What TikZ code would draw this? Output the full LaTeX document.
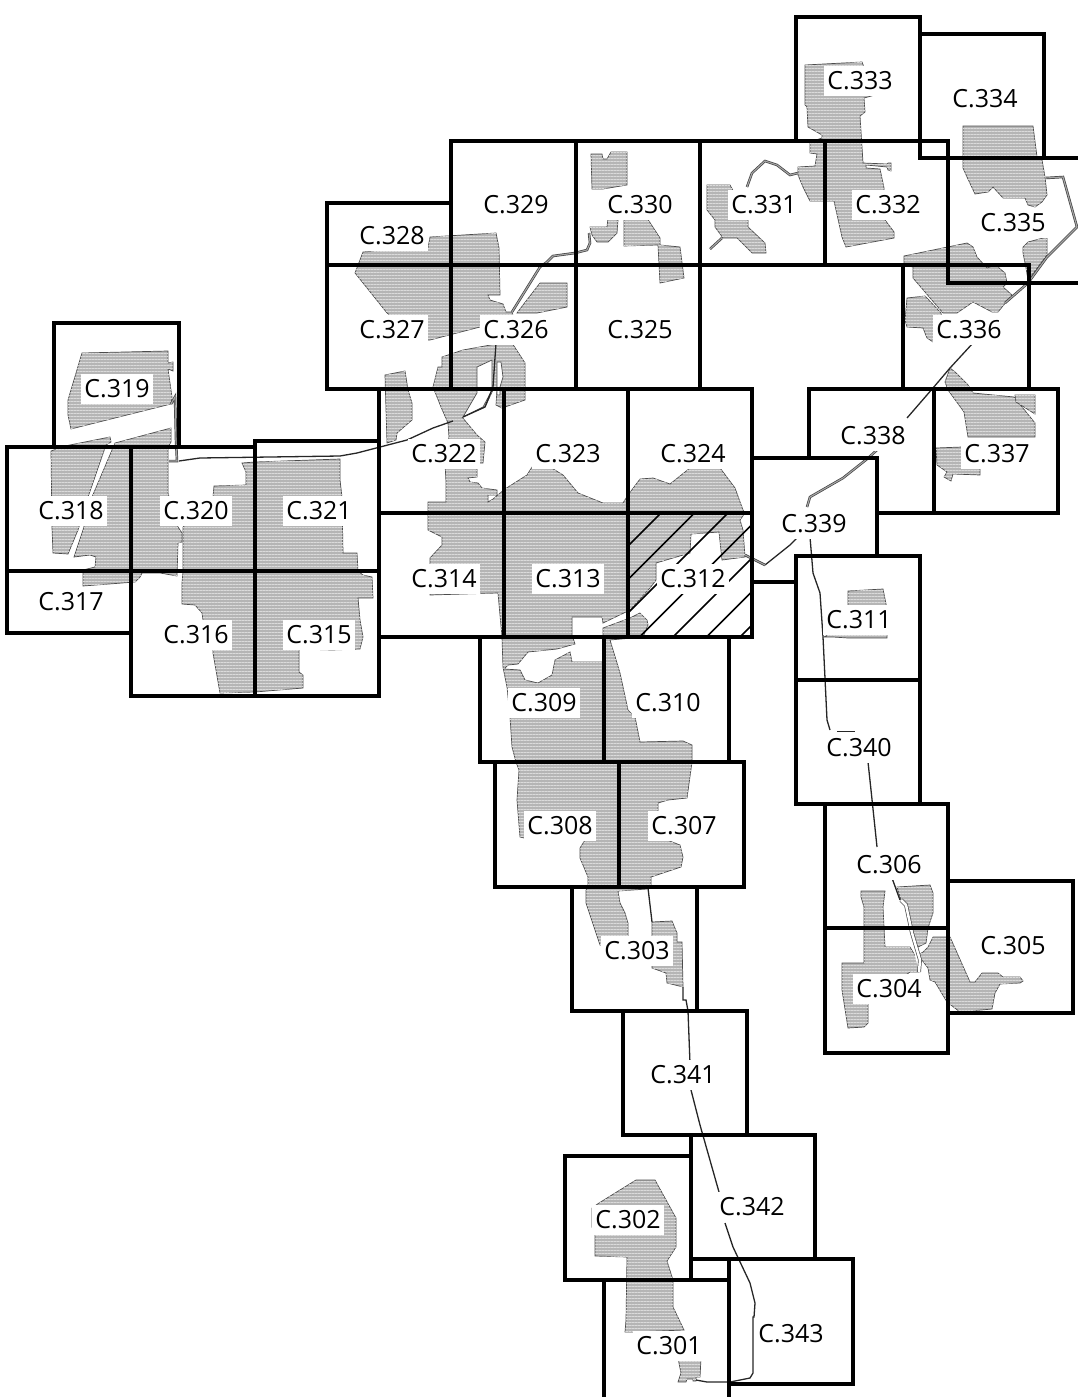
\documentclass[tikz,border=0pt]{standalone}
\usepackage{fontspec}
\setmainfont{Open Sans}
\usetikzlibrary{patterns.meta}
\definecolor{parcelgray}{gray}{0.71}
\definecolor{parcelline}{gray}{0.86}
\begin{document}
\begin{tikzpicture}[
        x=1pt,y=-1pt,
        parcel/.style={draw=black!70,line width=.7pt,fill=parcelgray,
            postaction={pattern={Lines[angle=0,distance=3pt,line width=.7pt]},pattern color=parcelline}},
        gap/.style={draw=black!70,line width=.7pt,fill=white},
        road/.style={draw=black!85,line width=1.3pt},
        canal/.style={draw=black!75,line width=.7pt,double=black!35,double distance=1.1pt},
        sheet/.style={draw=black,line width=3.1pt,line join=miter},
        sheetname/.style={fill=white,inner sep=0pt,yshift=-.7pt,minimum width=72pt,minimum height=30pt,font=\fontsize{25}{26}\selectfont},
    ]
    \useasboundingbox (0,0) rectangle (1078,1397);
    % north-west block
    \path[parcel] (82,353) -- (168,351) -- (168,363) -- (173,362) -- (173,371) -- (168,369) -- (172,397) -- (171,404) -- (71,429) -- (68,415) -- (68,400) -- cycle;
    \path[parcel] (51,451) -- (65,446) -- (110,437) -- (111,442) -- (106,445) -- (88,497) -- (78,530) -- (68,554) -- (53,553) -- (52,527) -- cycle;
    \path[parcel] (115,443) -- (171,428) -- (171,442) -- (168,447) -- (168,493) -- (178,527) -- (182,533) -- (182,542) -- (178,543) -- (177,576) -- (160,573) -- (142,573) -- (140,577) -- (135,582) -- (83,586) -- (83,570) -- (95,567) -- (96,557) -- (90,555) -- (74,557) -- (83,530) -- (92,497) -- cycle;
    \path[parcel] (242,463) -- (255,462) -- (340,459) -- (340,480) -- (342,497) -- (343,553) -- (357,553) -- (358,571) -- (363,575) -- (372,577) -- (373,598) -- (358,598) -- (360,620) -- (363,637) -- (360,649) -- (332,650) -- (299,649) -- (299,672) -- (303,675) -- (303,688) -- (255,692) -- (220,693) -- (213,653) -- (213,648) -- (203,620) -- (202,613) -- (195,605) -- (182,604) -- (182,583) -- (183,572) -- (183,527) -- (213,497) -- (214,486) -- (246,485) -- (246,472) -- cycle;
    \path[parcel] (385,375) -- (405,371) -- (408,390) -- (412,403) -- (412,420) -- (397,433) -- (396,440) -- (387,443) -- cycle;
    % central block
    \path[parcel] (442,357) -- (463,350) -- (496,344) -- (512,343) -- (525,363) -- (525,400) -- (502,408) -- (496,405) -- (497,390) -- (493,390) -- (485,407) -- (462,417) -- (477,435) -- (485,442) -- (483,463) -- (477,463) -- (477,477) -- (468,478) -- (470,482) -- (478,483) -- (482,488) -- (497,490) -- (497,495) -- (488,495) -- (488,502) -- (493,499) -- (505,489) -- (527,475) -- (532,467) -- (550,467) -- (563,475) -- (578,493) -- (603,503) -- (623,503) -- (628,495) -- (640,479) -- (653,478) -- (670,484) -- (690,468) -- (720,468) -- (735,488) -- (743,510) -- (745,513) -- (740,520) -- (743,530) -- (745,557) -- (722,560) -- (719,532) -- (691,534) -- (690,553) -- (656,563) -- (656,580) -- (650,588) -- (630,610) -- (603,623) -- (602,617) -- (572,617) -- (572,637) -- (573,638) -- (575,644) -- (557,649) -- (528,652) -- (518,664) -- (508,665) -- (504,669) -- (520,670) -- (525,680) -- (538,683) -- (552,675) -- (555,660) -- (570,652) -- (572,662) -- (603,662) -- (603,628) -- (630,618) -- (640,613) -- (647,620) -- (648,625) -- (643,637) -- (610,640) -- (620,673) -- (628,710) -- (635,717) -- (640,742) -- (683,741) -- (692,745) -- (692,762) -- (687,798) -- (668,800) -- (658,803) -- (658,830) -- (667,840) -- (680,845) -- (683,857) -- (681,867) -- (663,873) -- (651,877) -- (651,887) -- (647,889) -- (618,891) -- (620,903) -- (625,913) -- (628,923) -- (628,945) -- (600,945) -- (586,903) -- (586,890) -- (588,887) -- (588,877) -- (580,858) -- (580,848) -- (585,840) -- (585,830) -- (524,838) -- (520,837) -- (517,800) -- (519,770) -- (516,762) -- (512,747) -- (510,717) -- (507,687) -- (503,667) -- (502,637) -- (498,593) -- (430,595) -- (430,558) -- (442,545) -- (442,537) -- (428,530) -- (428,502) -- (446,502) -- (446,482) -- (445,463) -- (449,437) -- (448,423) -- (441,407) -- (433,387) -- (438,367) -- (442,367) -- cycle;
    \path[gap] (477,367) -- (492,360) -- (492,390) -- (483,407) -- (463,417) -- (477,393) -- cycle;
    \path[gap] (497,362) -- (501,362) -- (503,377) -- (500,387) -- (500,395) -- (497,395) -- cycle;
    \path[parcel] (652,922) -- (672,921) -- (677,933) -- (677,942) -- (682,942) -- (683,987) -- (667,983) -- (666,973) -- (652,968) -- cycle;
    % north block
    \path[parcel] (430,237) -- (496,233) -- (499,248) -- (500,295) -- (488,295) -- (490,300) -- (503,304) -- (506,312) -- (512,312) -- (516,327) -- (480,327) -- (430,340) -- (425,340) -- (387,313) -- (355,273) -- (363,252) -- (417,248) -- (428,248) -- cycle;
    \path[parcel] (540,283) -- (567,283) -- (567,307) -- (537,313) -- (517,313) -- (523,305) -- cycle;
    \path[parcel] (591,154) -- (602,154) -- (603,159) -- (607,159) -- (611,152) -- (627,152) -- (627,185) -- (603,189) -- (592,189) -- cycle;
    \path[parcel] (590,227) -- (607,227) -- (608,218) -- (618,220) -- (617,233) -- (608,242) -- (597,242) -- (592,235) -- cycle;
    \path[parcel] (624,218) -- (647,218) -- (660,238) -- (660,245) -- (680,247) -- (684,278) -- (660,283) -- (658,245) -- (624,246) -- cycle;
    \path[parcel] (707,185) -- (730,185) -- (748,218) -- (748,227) -- (765,243) -- (766,253) -- (752,253) -- (737,238) -- (723,238) -- (715,227) -- (715,220) -- (707,210) -- cycle;
    \path[parcel] (805,65) -- (862,62) -- (875,95) -- (864,98) -- (865,112) -- (860,116) -- (863,163) -- (887,164) -- (888,163) -- (891,163) -- (891,171) -- (888,170) -- (887,167) -- (866,165) -- (866,168) -- (880,169) -- (884,188) -- (885,220) -- (894,232) -- (894,238) -- (846,247) -- (842,237) -- (834,201) -- (810,201) -- (803,187) -- (798,175) -- (798,167) -- (815,166) -- (817,154) -- (810,153) -- (810,142) -- (822,138) -- (822,135) -- (808,127) -- (807,107) -- (805,105) -- cycle;
    \path[parcel] (963,126) -- (1033,126) -- (1037,157) -- (1042,160) -- (1045,177) -- (1047,195) -- (1042,202) -- (1035,207) -- (1028,205) -- (1025,198) -- (1003,198) -- (993,187) -- (988,192) -- (975,194) -- (967,177) -- (963,168) -- cycle;
    \path[parcel] (1023,247) -- (1028,242) -- (1047,237) -- (1047,255) -- (1028,280) -- (1026,268) -- (1023,253) -- cycle;
    \path[parcel] (904,256) -- (967,243) -- (973,247) -- (977,257) -- (987,268) -- (998,264) -- (999,268) -- (1005,273) -- (1007,283) -- (1003,287) -- (1012,295) -- (998,312) -- (992,312) -- (973,302) -- (957,313) -- (943,313) -- (913,278) -- (913,267) -- (904,265) -- cycle;
    \path[parcel] (907,298) -- (925,296) -- (941,313) -- (945,342) -- (933,342) -- (927,338) -- (923,328) -- (907,327) -- (905,320) -- cycle;
    \path[parcel] (950,368) -- (945,382) -- (948,390) -- (964,412) -- (968,437) -- (1035,437) -- (1035,423) -- (1014,397) -- (973,393) -- (968,385) -- (955,372) -- cycle;
    \path[parcel] (1015,395) -- (1035,395) -- (1035,414) -- (1016,402) -- cycle;
    \path[parcel] (936,448) -- (962,447) -- (962,467) -- (980,467) -- (980,475) -- (953,474) -- (951,481) -- (944,477) -- (947,472) -- (937,465) -- cycle;
    \path[parcel] (848,591) -- (883,589) -- (887,609) -- (848,609) -- cycle;
    \path[parcel] (824,637) -- (830,634) -- (887,634) -- (887,638) -- (848,638) -- (833,637) -- cycle;
    % south-east block
    \path[parcel] (861,891) -- (885,891) -- (883,907) -- (885,947) -- (910,947) -- (919,962) -- (919,972) -- (910,972) -- (868,1002) -- (868,1023) -- (864,1027) -- (848,1028) -- (842,990) -- (842,963) -- (864,963) -- (864,907) -- (861,897) -- cycle;
    \path[parcel] (897,887) -- (930,885) -- (933,893) -- (933,913) -- (928,928) -- (926,943) -- (918,947) -- (912,933) -- (907,913) -- (901,900) -- cycle;
    \path[parcel] (933,937) -- (950,937) -- (970,982) -- (975,982) -- (982,973) -- (998,973) -- (1003,977) -- (1020,977) -- (1023,981) -- (1020,983) -- (1000,984) -- (995,993) -- (992,1009) -- (960,1012) -- (947,1002) -- (935,982) -- (930,980) -- (928,968) -- (918,955) -- (923,952) -- (928,947) -- cycle;
    % south block
    \path[parcel] (599,1203) -- (636,1180) -- (655,1180) -- (676,1218) -- (676,1247) -- (667,1261) -- (673,1280) -- (673,1307) -- (684,1330) -- (632,1332) -- (625,1332) -- (626,1320) -- (627,1257) -- (595,1256) -- (595,1233) -- (592,1227) -- (592,1208) -- cycle;
    \path[parcel] (678,1358) -- (701,1358) -- (700,1377) -- (696,1377) -- (696,1381) -- (693,1381) -- (693,1379) -- (687,1379) -- (686,1382) -- (678,1382) -- (681,1373) -- cycle;
    % roads
    \draw[canal] (171,404) -- (175,397) -- (176,440) -- (177,461) -- (169,461);
    \draw[road] (179,461) -- (200,458) -- (340,456) -- (357,453) -- (407,440) -- (433,428) -- (453,421);
    \draw[road] (463,417) -- (485,407) -- (493,387) -- (496,343);
    \draw[canal] (512,312) -- (540,267) -- (547,262) -- (553,256) -- (575,253) -- (587,250) -- (590,243) -- (589,233);
    \draw[canal] (722,238) -- (710,249);
    \draw[canal] (747,187) -- (752,173) -- (765,161) -- (777,165) -- (790,175) -- (798,173);
    \draw[canal] (1046,178) -- (1063,177) -- (1077,227) -- (1047,257) -- (1028,283) -- (1005,303);
    \draw[road] (973,343) -- (950,368) -- (933,388) -- (907,418);
    \draw[canal] (877,450) -- (867,459) -- (843,478) -- (810,497) -- (807,507);
    \draw[road] (798,537) -- (790,545) -- (765,565);
    \draw[canal] (765,565) -- (745,555);
    \draw[road] (810,537) -- (813,573) -- (820,593) -- (823,637) -- (827,720) -- (830,730);
    \draw[road,line width=.8pt] (837,731) -- (855,731);
    \draw[road] (868,762) -- (871,790) -- (877,847);
    \draw[road] (892,878) -- (900,900);
    \draw[gap,double=white,double distance=2.5pt] (901,900) -- (906,905) -- (912,933) -- (920,960) -- (919,972);
    \draw[road] (648,888) -- (652,922);
    \draw[road] (683,987) -- (683,1000) -- (686,1000) -- (688,1011) -- (691,1090) -- (700,1125) -- (719,1192);
    \draw[road] (725,1223) -- (733,1247) -- (750,1283) -- (755,1303) -- (754,1317) -- (753,1317) -- (753,1373) -- (750,1378) -- (730,1382) -- (707,1382) -- (696,1380);
    % hatching of the reserved sheet
    \begin{scope}
        \clip (628,513) rectangle (752,637);
        \foreach \c in {1174,1207.5,1241,1276.5,1310,1343.5,1377}
            \draw[black,line width=1.7pt] (628,\c-628) -- (752,\c-752);
    \end{scope}
    % sheet names
    \foreach \n/\x/\y in {
        333/860/80,334/985/98,329/516/204,330/640/204,331/764/204,332/888/204,335/1013/222,
        328/392/235,327/392/329,326/516/329,325/640/329,336/969/329,319/117/388,
        322/444/453,323/568/453,324/693/453,338/873/435,337/997/453,
        318/71/510,320/196/510,321/319/510,339/814/523,314/444/578,313/568/578,312/693/578,
        317/71/601,311/859/619,316/196/634,315/319/634,309/544/702,310/668/702,340/859/747,
        308/560/825,307/684/825,306/889/864,303/637/950,305/1013/945,304/889/988,
        341/683/1074,342/752/1206,302/628/1219,343/791/1333,301/669/1345}
        \node[sheetname] (C\n) at (\x,\y) {C.\n};
    % sheet frames
    \foreach \x/\y/\w/\h in {
        796/17/124/124,920/34/124/124,451/141/125/124,576/141/124/124,700/141/125/124,825/141/123/124,
        327/203/124/62,327/265/124/124,451/265/125/124,576/265/124/124,903/265/126/124,
        54/323/125/124,379/389/125/124,504/389/124/124,628/389/124/124,934/389/124/124,
        7/447/124/124,131/447/124/124,255/441/124/130,
        379/513/125/124,504/513/124/124,628/513/124/124,
        7/571/124/62,131/571/124/125,255/571/124/125,796/556/124/124,796/680/124/124,
        480/637/124/125,604/637/125/125,495/762/124/125,619/762/125/125,
        825/804/123/124,825/928/123/125,948/881/125/132,572/887/125/124,
        623/1011/124/124,691/1135/124/124,565/1156/126/124,729/1259/124/125}
        \draw[sheet] (\x,\y) rectangle ++(\w,\h);
    % sheets lying partly under their neighbours
    \draw[sheet] (809,458) -- (809,389) -- (934,389) -- (934,513) -- (877,513);
    \draw[sheet] (796,582) -- (752,582) -- (752,458) -- (877,458) -- (877,556);
    \draw[sheet] (1080,158) -- (948,158) -- (948,283) -- (1080,283);
    \draw[sheet] (604,1399) -- (604,1280) -- (729,1280) -- (729,1399);
\end{tikzpicture}
\end{document}
